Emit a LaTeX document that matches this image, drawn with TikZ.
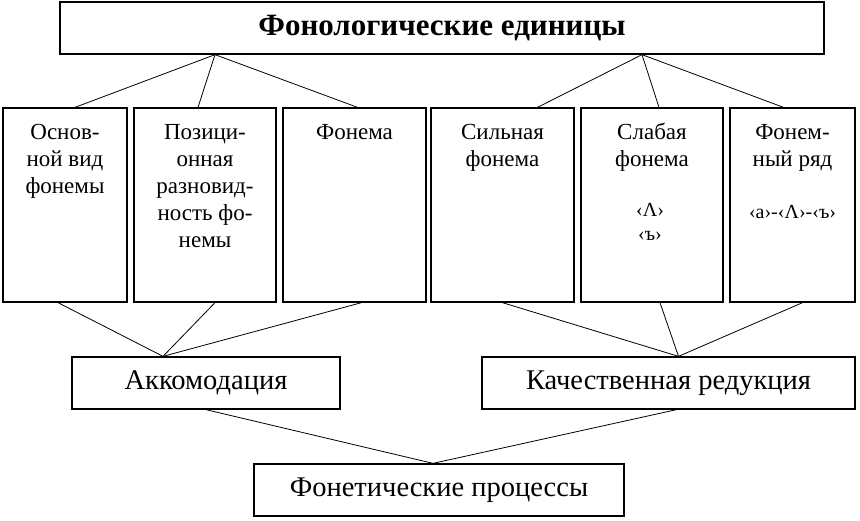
\documentclass[tikz,border=0pt]{standalone}
\usepackage{fontspec}
\setmainfont{Liberation Serif}
\usetikzlibrary{positioning}

\begin{document}
\begin{tikzpicture}[x=1pt, y=-1pt,
    box/.style={draw, line width=1.3pt, inner sep=0pt},
    col/.style={box, minimum width=#1, minimum height=194pt},
    proc/.style={box, minimum height=52pt, font=\fontsize{28.5}{34}\selectfont},
    txt/.style={align=center, inner sep=0pt, font=\fontsize{23}{27}\selectfont},
    sym/.style={inner sep=0pt, font=\fontsize{20}{24}\selectfont},
    link/.style={line width=0.8pt}]
\useasboundingbox (0,0) rectangle (860,520);
\node[box, minimum width=764pt, minimum height=52pt, font=\fontsize{31}{36}\selectfont\bfseries] (units) at (442,28) {Фонологические единицы};
\node[col=124pt] (c1) at (65,205) {};
\node[col=142pt] (c2) at (205,205) {};
\node[col=143pt] (c3) at (354.5,205) {};
\node[col=143pt] (c4) at (502.5,205) {};
\node[col=142pt] (c5) at (652,205) {};
\node[col=125pt] (c6) at (792.5,205) {};
\node[txt, below=13pt of c1.north] {\strut Основ-\\ной вид\\фонемы};
\node[txt, below=13pt of c2.north] {\strut Позици-\\онная\\разновид-\\ность фо-\\немы};
\node[txt, below=13pt of c3.north] {\strut Фонема};
\node[txt, below=13pt of c4.north] {\strut Сильная\\фонема};
\node[txt, below=13pt of c5.north] {\strut Слабая\\фонема};
\node[txt, below=13pt of c6.north] {\strut Фонем-\\ный ряд};
\node[sym] (s1) at (650,210) {‹Λ›};
\node[sym] (s2) at (650,236) {‹ъ›};
\node[sym] (s3) at (792.5,212) {‹а›-‹Λ›-‹ъ›};
\node[proc, minimum width=268pt] (akk) at (206,383) {Аккомодация};
\node[proc, minimum width=373pt] (red) at (668.5,383) {Качественная редукция};
\node[proc, minimum width=370pt] (proc) at (439,490) {Фонетические процессы};
\path[link]
    ([xshift=-227pt]units.south) edge ([xshift=10pt]c1.north)
                                 edge ([xshift=-7pt]c2.north)
                                 edge ([xshift=3pt]c3.north)
    ([xshift=200pt]units.south)  edge ([xshift=35pt]c4.north)
                                 edge ([xshift=7pt]c5.north)
                                 edge ([xshift=-9pt]c6.north)
    ([xshift=-43pt]akk.north)    edge ([xshift=-7pt]c1.south)
                                 edge ([xshift=10pt]c2.south)
                                 edge ([xshift=7pt]c3.south)
    ([xshift=10pt]red.north)     edge (c4.south)
                                 edge ([xshift=8pt]c5.south)
                                 edge ([xshift=10pt]c6.south)
    ([xshift=-6pt]proc.north)    edge (akk.south)
                                 edge ([xshift=8pt]red.south);
\end{tikzpicture}
\end{document}
